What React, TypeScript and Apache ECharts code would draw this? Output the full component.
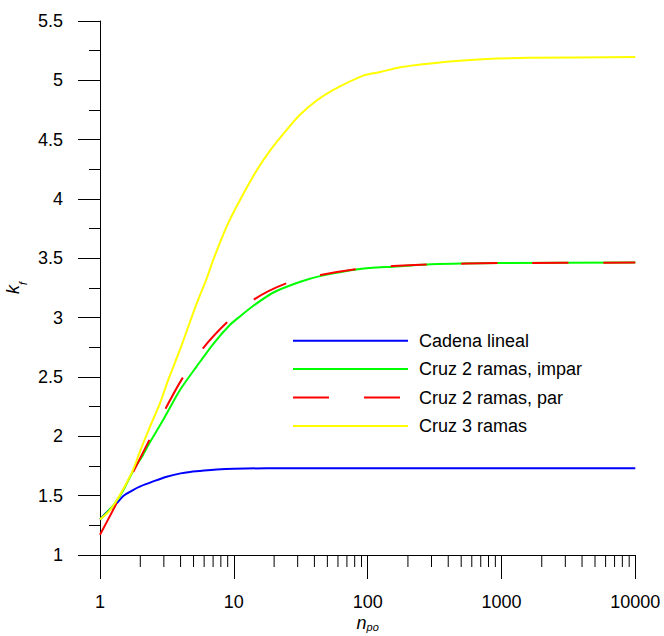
import React, { useEffect, useRef } from 'react';
import * as echarts from 'echarts';

// Cadena lineal
const cadenaN = [1, 1.15, 1.33, 1.5, 1.75, 2, 2.5, 3.15, 4, 4.7, 6, 7.45, 10, 17.6, 100, 1000, 10000];
const cadenaK = [1.3, 1.37, 1.435, 1.5, 1.545, 1.578, 1.62, 1.66, 1.688, 1.7, 1.712, 1.72, 1.726, 1.731, 1.732, 1.732, 1.732];

// Cruz 2 ramas, impar
const imparN = [1, 1.15, 1.3, 1.5, 1.77, 2.11, 2.36, 2.97, 3.96, 5.28, 7.03, 9.37, 11.1, 14, 19.6, 31, 44, 87.6, 155, 300, 1000, 10000];
const imparK = [1.3, 1.37, 1.44, 1.55, 1.71, 1.85, 1.95, 2.14, 2.39, 2.59, 2.78, 2.94, 3.01, 3.1, 3.21, 3.3, 3.35, 3.41, 3.43, 3.45, 3.46, 3.464];

// Cruz 2 ramas, par
const parN = [1, 1.33, 1.77, 2.34, 3.11, 4.08, 5.86, 8.86, 14, 24.8, 44.5, 83, 155, 300, 1000, 10000];
const parK = [1.17, 1.435, 1.7, 1.97, 2.24, 2.48, 2.74, 2.96, 3.15, 3.29, 3.36, 3.41, 3.435, 3.45, 3.46, 3.464];

// Cruz 3 ramas
const cruz3N = [1, 1.15, 1.3, 1.5, 1.77, 2, 2.36, 2.81, 3.22, 3.96, 5.28, 6.27, 7.03, 8.85, 11.1, 14.8, 18.7, 24.9, 31.2, 41.6, 55.4, 92.9, 124, 175, 390, 777, 1630, 10000];
const cruz3K = [1.3, 1.36, 1.44, 1.56, 1.72, 1.88, 2.08, 2.28, 2.47, 2.73, 3.12, 3.33, 3.49, 3.77, 3.99, 4.24, 4.41, 4.585, 4.71, 4.83, 4.92, 5.04, 5.07, 5.11, 5.156, 5.18, 5.19, 5.196];

const seriesNames = ['Cadena lineal', 'Cruz 2 ramas, impar', 'Cruz 2 ramas, par', 'Cruz 3 ramas'];

// minor ticks of the logarithmic axis: 2..9 in each decade
const decades = [1, 10, 100, 1000];
const minorSteps = [2, 3, 4, 5, 6, 7, 8, 9];

const FONT = 'Liberation Sans, Arial, sans-serif';

const zip = (xs: number[], ys: number[]) => xs.map((x, i) => [x, ys[i]]);

// italic symbol with a lowered subscript
const yNameRich = {
  i: { fontSize: 18, fontStyle: 'italic', fontFamily: FONT, color: '#000', lineHeight: 24, verticalAlign: 'top' },
  s: { fontSize: 11, fontStyle: 'italic', fontFamily: FONT, color: '#000', lineHeight: 11, verticalAlign: 'bottom' },
};
const xNameRich = {
  i: { fontSize: 18, fontStyle: 'italic', fontFamily: FONT, color: '#000', lineHeight: 18, verticalAlign: 'top', padding: [0, 0, 3, 0] },
  s: { fontSize: 11, fontStyle: 'italic', fontFamily: FONT, color: '#000', lineHeight: 11, verticalAlign: 'bottom' },
};

export default function App() {
  const ref = useRef<HTMLDivElement>(null);

  useEffect(() => {
    if (!ref.current) return;
    const chart = echarts.init(ref.current, undefined, { renderer: 'svg' });

    const minorTicks: number[][] = [];
    decades.forEach((d) => minorSteps.forEach((s) => minorTicks.push([d * s, 1])));

    const line = (name: string, xs: number[], ys: number[], color: string, type: any = 'solid') => ({
      name,
      type: 'line',
      data: zip(xs, ys),
      symbol: 'none',
      smooth: 0.25,
      lineStyle: { color, width: 2, type },
      itemStyle: { color },
      silent: true,
    });

    chart.setOption({
      animation: false,
      backgroundColor: '#fff',
      textStyle: { fontFamily: FONT },
      grid: { left: 100, right: 28.7, top: 21, bottom: 81, outerBoundsMode: 'none', containLabel: false },
      legend: {
        data: seriesNames,
        orient: 'vertical',
        left: 287,
        top: 326.7,
        itemWidth: 115,
        itemHeight: 18,
        itemGap: 10.4,
        selectedMode: false,
        itemStyle: { opacity: 0 },
        textStyle: { fontSize: 18, fontFamily: FONT, color: '#000', lineHeight: 18, padding: [0, 0, 0, 6] },
      },
      xAxis: {
        type: 'log',
        logBase: 10,
        min: 1,
        max: 10000,
        name: '{i|n}{s|po}',
        nameLocation: 'middle',
        nameGap: 59,
        nameMoveOverlap: false,
        nameTextStyle: { rich: xNameRich },
        axisLine: { show: true, lineStyle: { color: '#000', width: 1 } },
        axisTick: { show: true, length: 24, lineStyle: { color: '#000', width: 1 } },
        splitLine: { show: false },
        axisLabel: {
          fontSize: 18,
          fontFamily: FONT,
          color: '#000',
          margin: 38,
          formatter: (v: number) => String(Math.round(v)),
        },
      },
      yAxis: {
        type: 'value',
        min: 1,
        max: 5.5,
        interval: 0.5,
        name: '{i|k}{s|f}',
        nameLocation: 'middle',
        nameRotate: 90,
        nameGap: 72,
        nameMoveOverlap: false,
        nameTextStyle: { rich: yNameRich },
        axisLine: { show: true, lineStyle: { color: '#000', width: 1 } },
        axisTick: { show: true, length: 22, lineStyle: { color: '#000', width: 1 } },
        minorTick: { show: true, splitNumber: 2, length: 11, lineStyle: { color: '#000', width: 1 } },
        splitLine: { show: false },
        axisLabel: {
          fontSize: 18,
          fontFamily: FONT,
          color: '#000',
          margin: 37,
          formatter: (v: number) => String(v),
        },
      },
      series: [
        {
          name: 'minorTicks',
          type: 'custom',
          silent: true,
          clip: false,
          data: minorTicks,
          renderItem: (params: any, api: any) => {
            const p = api.coord([api.value(0), api.value(1)]);
            return {
              type: 'line',
              shape: { x1: p[0], y1: p[1], x2: p[0], y2: p[1] + 12 },
              style: { stroke: '#000', lineWidth: 1 },
            };
          },
        },
        line(seriesNames[0], cadenaN, cadenaK, '#0000ff'),
        line(seriesNames[1], imparN, imparK, '#00ff00'),
        line(seriesNames[2], parN, parK, '#ff0000', [36, 35]),
        line(seriesNames[3], cruz3N, cruz3K, '#ffff00'),
      ],
    });

    return () => chart.dispose();
  }, []);

  return (
    <div
      ref={ref}
      style={{ position: 'fixed', left: 0, top: 0, width: 664, height: 636, background: '#fff' }}
    />
  );
}
